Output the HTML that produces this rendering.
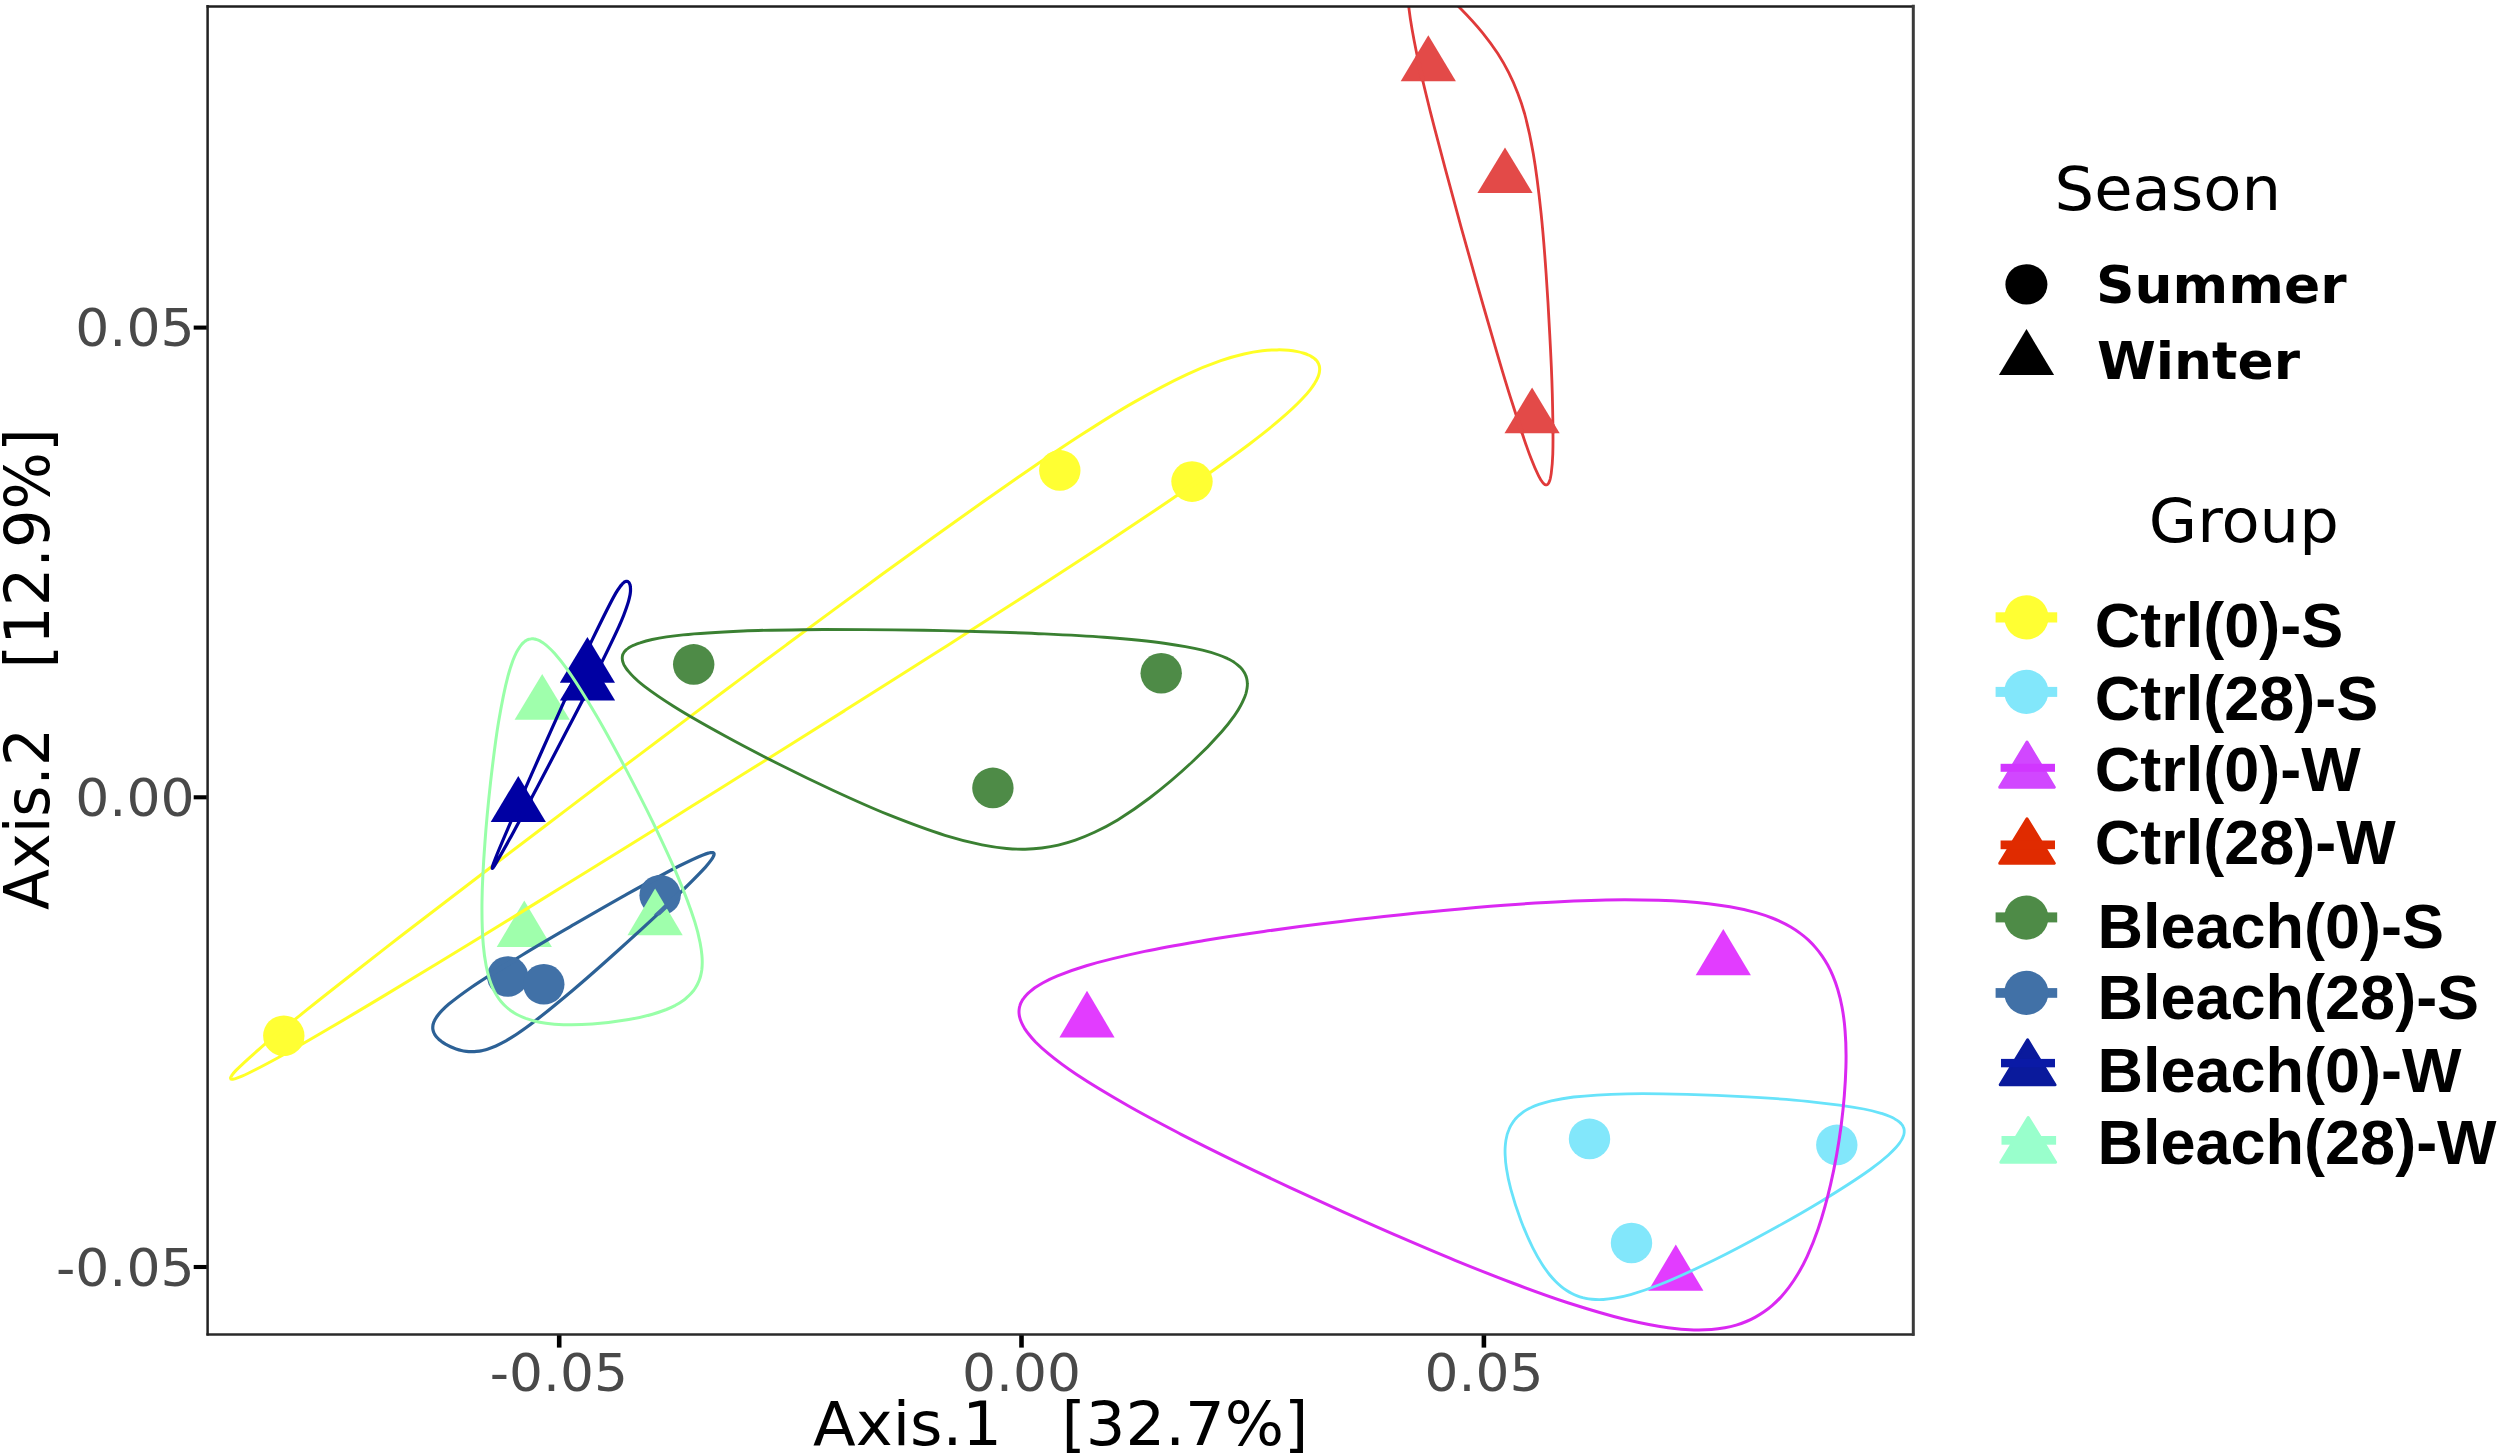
<!DOCTYPE html>
<html lang="en"><head><meta charset="utf-8"><title>PCoA ordination</title>
<style>html,body{margin:0;padding:0;background:#fff}svg{display:block}.dj{font-family:"DejaVu Sans","Liberation Sans",sans-serif}.djb{font-family:"DejaVu Sans","Liberation Sans",sans-serif;font-weight:bold}.ar{font-family:"Liberation Sans","DejaVu Sans",sans-serif;font-weight:bold}</style></head><body>
<svg width="2500" height="1455" viewBox="0 0 2500 1455">
<rect width="2500" height="1455" fill="#fff"/>
<defs><clipPath id="panel"><rect x="207.7" y="6.3" width="1705.4" height="1328.0"/></clipPath></defs>
<defs>
<path id="h-yellow" d="M1249.2 444.2C1234.9 455.0 1216.9 467.8 1200.5 479.3C1184.0 490.9 1167.4 502.1 1150.7 513.3C1134.0 524.6 1117.1 535.8 1100.2 546.9C1083.3 558.0 1066.4 569.0 1049.5 579.9C1032.6 590.9 1015.8 601.7 998.8 612.6C981.8 623.5 964.6 634.5 947.5 645.4C930.4 656.3 913.3 667.1 896.1 678.0C879.0 688.8 861.7 699.7 844.6 710.6C827.4 721.4 810.2 732.2 793.1 742.9C776.1 753.6 759.2 764.2 742.2 774.8C725.2 785.4 708.3 796.0 691.3 806.6C674.2 817.3 657.0 828.0 639.9 838.7C622.7 849.4 605.5 860.1 588.3 870.7C571.2 881.3 554.2 891.8 537.1 902.4C519.8 913.0 502.5 923.7 485.2 934.3C468.0 944.8 450.8 955.4 433.6 965.8C416.5 976.2 399.4 986.6 382.2 996.9C364.9 1007.3 347.6 1017.7 330.2 1027.8C312.9 1037.9 294.0 1049.1 278.0 1057.7C264.8 1064.9 248.4 1073.3 241.4 1076.4C238.6 1077.6 236.9 1078.2 235.5 1078.6C234.6 1078.9 234.0 1079.0 233.5 1079.1C233.1 1079.2 232.8 1079.2 232.5 1079.3C232.3 1079.3 232.1 1079.3 232.0 1079.3C231.8 1079.3 231.7 1079.3 231.6 1079.3C231.5 1079.2 231.4 1079.2 231.3 1079.2C231.3 1079.2 231.2 1079.2 231.2 1079.2C231.1 1079.1 231.1 1079.1 231.0 1079.1C231.0 1079.1 230.9 1079.0 230.9 1079.0C230.9 1079.0 230.8 1079.0 230.8 1078.9C230.8 1078.9 230.8 1078.9 230.8 1078.9C230.7 1078.8 230.7 1078.8 230.7 1078.8C230.7 1078.8 230.7 1078.7 230.7 1078.7C230.6 1078.7 230.6 1078.6 230.6 1078.6C230.6 1078.6 230.6 1078.5 230.6 1078.5C230.6 1078.4 230.6 1078.4 230.6 1078.3C230.6 1078.3 230.6 1078.2 230.6 1078.1C230.6 1078.1 230.6 1078.0 230.6 1077.9C230.6 1077.8 230.6 1077.7 230.7 1077.5C230.7 1077.4 230.8 1077.2 230.9 1077.1C231.0 1076.8 231.1 1076.6 231.3 1076.3C231.6 1075.8 231.9 1075.3 232.4 1074.6C233.2 1073.5 234.2 1072.3 236.0 1070.4C240.3 1066.0 250.0 1057.1 259.2 1049.1C271.9 1038.0 290.0 1023.5 305.5 1010.9C321.1 998.3 336.8 986.0 352.6 973.7C368.4 961.2 384.4 948.9 400.3 936.5C416.3 924.2 432.3 911.9 448.3 899.7C464.2 887.5 480.1 875.3 496.0 863.2C512.0 851.0 528.0 838.8 544.1 826.7C560.2 814.5 576.4 802.2 592.5 790.0C608.6 777.8 624.7 765.7 640.9 753.6C657.0 741.4 673.3 729.2 689.4 717.1C705.6 705.0 721.7 692.9 737.9 680.9C754.1 668.8 770.4 656.6 786.7 644.6C802.9 632.6 819.1 620.6 835.4 608.6C851.6 596.7 867.9 584.7 884.2 572.8C900.6 560.9 917.0 549.0 933.4 537.2C949.9 525.4 966.3 513.6 982.8 502.0C999.3 490.4 1015.8 478.9 1032.4 467.5C1049.0 456.2 1065.6 444.9 1082.5 434.1C1099.4 423.2 1116.4 412.3 1133.8 402.4C1151.2 392.4 1171.2 381.7 1187.1 374.3C1199.4 368.5 1210.5 364.2 1220.8 360.6C1229.1 357.8 1236.7 355.7 1244.1 354.0C1250.5 352.5 1256.5 351.5 1262.3 350.8C1267.4 350.2 1272.4 349.9 1277.0 349.9C1281.2 349.8 1285.2 350.0 1288.8 350.3C1291.9 350.6 1294.9 351.1 1297.6 351.6C1299.9 352.0 1301.9 352.6 1303.8 353.2C1305.4 353.7 1306.8 354.2 1308.1 354.8C1309.2 355.2 1310.2 355.7 1311.1 356.3C1311.9 356.7 1312.6 357.2 1313.2 357.6C1313.8 358.1 1314.4 358.5 1314.9 359.0C1315.4 359.4 1315.8 359.8 1316.2 360.2C1316.5 360.6 1316.8 361.0 1317.2 361.4C1317.4 361.8 1317.7 362.2 1318.0 362.7C1318.2 363.1 1318.4 363.5 1318.6 363.9C1318.8 364.3 1318.9 364.7 1319.0 365.1C1319.2 365.5 1319.3 366.0 1319.4 366.4C1319.5 366.9 1319.5 367.3 1319.6 367.8C1319.6 368.3 1319.7 368.8 1319.7 369.3C1319.6 369.9 1319.6 370.5 1319.5 371.1C1319.5 371.7 1319.3 372.4 1319.2 373.1C1319.0 373.9 1318.8 374.7 1318.5 375.6C1318.1 376.6 1317.7 377.7 1317.1 378.8C1316.5 380.2 1315.7 381.6 1314.8 383.1C1313.6 385.0 1312.3 387.0 1310.5 389.3C1308.2 392.3 1305.5 395.5 1301.8 399.3C1296.3 405.1 1288.0 412.8 1279.9 419.7C1270.7 427.7 1260.7 435.4 1249.2 444.2Z"/>
<clipPath id="m-yellow">
<ellipse cx="1059.8" cy="470.4" rx="20.7" ry="20.3"/>
<ellipse cx="1192.0" cy="481.6" rx="20.7" ry="20.3"/>
<ellipse cx="283.8" cy="1035.7" rx="20.7" ry="20.3"/>
</clipPath>
<path id="h-cyan" d="M1903.6 1127.8C1903.7 1128.1 1903.9 1128.6 1904.0 1128.9C1904.1 1129.3 1904.1 1129.7 1904.2 1130.0C1904.2 1130.4 1904.2 1130.8 1904.2 1131.2C1904.2 1131.6 1904.2 1132.0 1904.2 1132.4C1904.1 1132.9 1904.1 1133.3 1904.0 1133.8C1903.9 1134.3 1903.8 1134.9 1903.6 1135.4C1903.4 1136.1 1903.1 1136.7 1902.8 1137.4C1902.5 1138.2 1902.1 1139.0 1901.6 1139.9C1901.0 1140.9 1900.3 1142.0 1899.5 1143.1C1898.4 1144.6 1897.2 1146.1 1895.7 1147.8C1893.7 1150.0 1891.3 1152.4 1888.2 1155.2C1883.6 1159.3 1877.9 1164.0 1870.3 1169.5C1857.9 1178.4 1836.9 1191.8 1819.7 1202.2C1802.6 1212.6 1785.1 1222.4 1767.5 1232.0C1749.9 1241.7 1732.2 1251.2 1714.2 1260.0C1696.1 1268.8 1674.8 1278.7 1659.3 1284.8C1648.3 1289.2 1638.9 1292.2 1630.6 1294.6C1624.5 1296.3 1619.2 1297.4 1614.3 1298.2C1610.3 1298.9 1606.7 1299.3 1603.3 1299.5C1600.4 1299.7 1597.8 1299.7 1595.3 1299.5C1592.9 1299.4 1590.8 1299.2 1588.6 1298.9C1586.6 1298.6 1584.7 1298.2 1582.7 1297.7C1580.9 1297.2 1579.0 1296.6 1577.2 1295.9C1575.4 1295.2 1573.6 1294.4 1571.9 1293.5C1570.1 1292.6 1568.4 1291.6 1566.7 1290.5C1564.9 1289.3 1563.1 1288.1 1561.3 1286.6C1559.4 1285.1 1557.6 1283.4 1555.7 1281.5C1553.6 1279.4 1551.5 1277.1 1549.4 1274.5C1547.0 1271.4 1544.5 1268.1 1542.1 1264.2C1539.0 1259.5 1535.9 1254.1 1532.8 1247.9C1528.9 1240.0 1524.5 1229.9 1520.9 1220.4C1517.1 1210.4 1513.3 1198.5 1510.8 1189.1C1508.8 1181.6 1507.4 1174.8 1506.5 1168.7C1505.7 1164.0 1505.3 1159.7 1505.2 1155.8C1505.0 1152.6 1505.0 1149.7 1505.2 1146.9C1505.3 1144.5 1505.6 1142.3 1505.9 1140.2C1506.3 1138.3 1506.7 1136.5 1507.1 1134.7C1507.6 1133.1 1508.1 1131.6 1508.7 1130.2C1509.2 1128.8 1509.9 1127.4 1510.5 1126.2C1511.2 1124.9 1511.9 1123.7 1512.7 1122.6C1513.4 1121.5 1514.3 1120.4 1515.1 1119.3C1516.0 1118.3 1517.0 1117.2 1518.0 1116.3C1519.1 1115.2 1520.3 1114.2 1521.5 1113.3C1522.8 1112.3 1524.2 1111.3 1525.7 1110.4C1527.4 1109.4 1529.2 1108.4 1531.2 1107.5C1533.5 1106.4 1536.0 1105.4 1538.9 1104.4C1542.5 1103.1 1546.5 1101.9 1551.3 1100.8C1557.6 1099.4 1564.5 1098.1 1573.6 1097.0C1587.5 1095.4 1608.8 1094.3 1627.2 1093.8C1646.6 1093.3 1667.2 1093.8 1687.2 1094.3C1707.3 1094.8 1727.4 1095.7 1747.4 1096.9C1767.5 1098.0 1787.7 1099.2 1807.4 1101.3C1826.5 1103.3 1850.2 1106.4 1863.7 1109.0C1871.4 1110.4 1876.8 1112.0 1881.6 1113.4C1885.0 1114.5 1887.6 1115.5 1890.0 1116.5C1891.9 1117.3 1893.4 1118.1 1894.8 1118.9C1896.0 1119.5 1896.9 1120.2 1897.8 1120.8C1898.5 1121.3 1899.2 1121.9 1899.8 1122.4C1900.3 1122.9 1900.8 1123.3 1901.2 1123.8C1901.5 1124.2 1901.9 1124.6 1902.2 1125.0C1902.4 1125.4 1902.7 1125.8 1902.9 1126.2C1903.1 1126.6 1903.3 1127.0 1903.4 1127.3C1903.5 1127.5 1903.6 1127.6 1903.6 1127.8Z"/>
<clipPath id="m-cyan">
<ellipse cx="1589.5" cy="1138.9" rx="20.7" ry="20.3"/>
<ellipse cx="1836.8" cy="1144.9" rx="20.7" ry="20.3"/>
<ellipse cx="1631.5" cy="1243.0" rx="20.7" ry="20.3"/>
</clipPath>
<path id="h-magenta" d="M1779.4 921.1C1782.7 922.6 1787.2 924.9 1790.8 927.0C1794.2 929.0 1797.3 931.1 1800.3 933.4C1803.2 935.5 1805.9 937.8 1808.5 940.2C1811.0 942.6 1813.4 945.0 1815.6 947.6C1817.9 950.2 1820.0 953.0 1822.0 955.9C1824.0 958.8 1825.9 961.9 1827.7 965.1C1829.6 968.6 1831.4 972.2 1833.0 976.1C1834.8 980.3 1836.4 984.8 1837.8 989.7C1839.4 995.1 1840.9 1000.7 1842.0 1007.0C1843.4 1014.4 1844.5 1022.3 1845.1 1031.1C1846.0 1042.0 1846.3 1053.8 1845.9 1067.3C1845.4 1084.3 1843.7 1105.8 1841.2 1125.2C1838.6 1144.9 1834.8 1166.2 1830.6 1184.4C1826.9 1200.4 1822.5 1216.1 1818.1 1229.0C1814.6 1239.3 1810.9 1248.2 1807.2 1256.3C1804.1 1263.0 1801.0 1268.8 1797.7 1274.3C1794.9 1279.1 1791.9 1283.4 1788.9 1287.4C1786.2 1291.0 1783.4 1294.3 1780.6 1297.4C1777.9 1300.2 1775.1 1302.9 1772.3 1305.3C1769.6 1307.7 1766.8 1309.8 1764.0 1311.8C1761.2 1313.8 1758.3 1315.5 1755.4 1317.1C1752.4 1318.8 1749.4 1320.2 1746.3 1321.5C1743.0 1322.9 1739.7 1324.1 1736.2 1325.1C1732.5 1326.2 1728.8 1327.1 1724.9 1327.8C1720.6 1328.6 1716.3 1329.2 1711.5 1329.5C1706.1 1329.9 1700.3 1330.1 1693.9 1329.9C1686.1 1329.7 1677.8 1329.1 1668.2 1327.7C1655.7 1326.0 1640.8 1323.1 1625.6 1319.5C1607.7 1315.1 1586.9 1308.8 1567.8 1302.7C1548.8 1296.5 1530.0 1289.6 1511.2 1282.5C1492.4 1275.5 1473.7 1267.9 1455.0 1260.3C1436.3 1252.7 1417.7 1244.7 1399.2 1236.7C1380.8 1228.8 1362.5 1220.6 1344.2 1212.4C1325.9 1204.1 1307.7 1195.8 1289.6 1187.3C1271.4 1178.8 1253.2 1170.1 1235.2 1161.3C1217.1 1152.5 1199.0 1143.5 1181.1 1134.3C1163.3 1125.0 1145.5 1115.8 1128.1 1105.8C1110.7 1095.9 1091.0 1084.2 1076.6 1074.6C1065.6 1067.2 1055.8 1059.9 1048.4 1053.7C1043.1 1049.4 1039.1 1045.6 1035.5 1042.0C1032.8 1039.1 1030.5 1036.5 1028.6 1034.0C1027.0 1032.0 1025.7 1030.1 1024.5 1028.3C1023.6 1026.8 1022.7 1025.3 1022.1 1023.8C1021.5 1022.6 1021.0 1021.4 1020.6 1020.3C1020.2 1019.2 1019.9 1018.2 1019.7 1017.2C1019.4 1016.3 1019.3 1015.4 1019.2 1014.6C1019.1 1013.8 1019.0 1013.0 1019.0 1012.2C1019.0 1011.4 1019.0 1010.7 1019.1 1009.9C1019.1 1009.1 1019.3 1008.4 1019.4 1007.6C1019.6 1006.8 1019.8 1006.1 1020.0 1005.4C1020.2 1004.6 1020.5 1003.9 1020.8 1003.1C1021.2 1002.4 1021.6 1001.6 1022.0 1000.8C1022.5 999.9 1023.1 999.0 1023.8 998.2C1024.5 997.2 1025.3 996.2 1026.2 995.2C1027.2 994.1 1028.4 993.0 1029.7 991.9C1031.2 990.6 1032.9 989.2 1034.8 987.8C1037.2 986.2 1039.9 984.5 1043.1 982.7C1047.2 980.5 1051.8 978.2 1057.5 975.9C1065.4 972.6 1075.0 969.1 1086.4 965.7C1102.4 961.0 1125.1 955.6 1144.7 951.4C1164.3 947.2 1184.2 943.9 1204.1 940.5C1223.9 937.2 1243.9 934.3 1263.8 931.5C1283.8 928.6 1303.8 926.0 1323.8 923.6C1343.9 921.1 1363.9 918.7 1383.9 916.6C1403.9 914.4 1423.7 912.3 1443.7 910.5C1463.7 908.6 1483.9 906.8 1504.0 905.3C1524.1 903.8 1544.3 902.4 1564.5 901.5C1584.6 900.6 1604.7 899.8 1624.8 899.8C1644.8 899.8 1666.3 900.1 1684.8 901.4C1701.0 902.6 1717.0 904.5 1729.9 906.7C1739.9 908.4 1748.4 910.4 1756.2 912.6C1762.6 914.4 1769.2 916.8 1773.4 918.5C1776.0 919.4 1777.1 920.0 1779.4 921.1Z"/>
<clipPath id="m-magenta">
<path d="M1087.0 990.7 L1114.6 1037.4 L1059.4 1037.4Z"/>
<path d="M1723.3 929.1 L1750.9 975.3 L1695.7 975.3Z"/>
<path d="M1675.8 1244.6 L1703.4 1290.7 L1648.2 1290.7Z"/>
</clipPath>
<path id="h-red" d="M1524.7 114.0C1527.7 125.1 1530.8 139.1 1533.3 153.7C1536.4 171.6 1539.0 193.5 1541.1 213.5C1543.2 233.4 1544.7 253.4 1546.1 273.5C1547.5 293.5 1548.7 313.6 1549.7 333.6C1550.8 353.7 1551.8 373.8 1552.3 393.9C1552.8 413.9 1553.3 439.6 1552.8 454.0C1552.5 462.1 1551.9 468.4 1551.3 472.9C1551.0 475.4 1550.6 477.1 1550.3 478.6C1550.0 479.6 1549.8 480.4 1549.5 481.1C1549.3 481.6 1549.1 482.1 1549.0 482.4C1548.8 482.7 1548.7 483.0 1548.5 483.2C1548.4 483.4 1548.3 483.6 1548.2 483.7C1548.1 483.9 1547.9 484.0 1547.8 484.1C1547.7 484.2 1547.6 484.3 1547.6 484.4C1547.5 484.4 1547.4 484.5 1547.3 484.5C1547.2 484.6 1547.2 484.6 1547.1 484.7C1547.0 484.7 1546.9 484.7 1546.9 484.8C1546.8 484.8 1546.7 484.8 1546.7 484.8C1546.6 484.8 1546.5 484.9 1546.4 484.9C1546.4 484.9 1546.3 484.9 1546.2 484.9C1546.1 484.9 1546.1 484.9 1546.0 484.9C1545.9 484.9 1545.8 484.9 1545.7 484.8C1545.6 484.8 1545.5 484.8 1545.4 484.8C1545.3 484.7 1545.2 484.7 1545.1 484.6C1545.0 484.6 1544.8 484.5 1544.7 484.4C1544.6 484.3 1544.4 484.2 1544.2 484.1C1544.0 483.9 1543.8 483.7 1543.6 483.5C1543.3 483.2 1543.0 482.9 1542.7 482.5C1542.3 482.0 1541.8 481.4 1541.3 480.6C1540.5 479.3 1539.6 477.9 1538.5 475.7C1536.5 471.7 1533.8 465.7 1530.9 458.1C1525.7 444.6 1517.8 420.3 1511.7 401.2C1505.5 382.1 1499.9 362.8 1494.3 343.6C1488.6 324.3 1483.1 305.1 1477.6 285.8C1472.1 266.5 1466.7 247.2 1461.3 227.9C1456.0 208.5 1450.7 189.1 1445.5 169.7C1440.3 150.3 1435.2 131.0 1430.3 111.6C1425.5 92.1 1420.2 71.1 1416.6 53.0C1413.4 37.5 1410.3 19.7 1409.1 9.7C1408.5 4.4 1408.4 0.9 1408.4 -2.5C1408.4 -4.8 1408.5 -6.7 1408.7 -8.5C1408.8 -9.8 1409.0 -11.0 1409.2 -12.0C1409.4 -12.9 1409.6 -13.6 1409.9 -14.3C1410.0 -14.9 1410.3 -15.5 1410.5 -16.0C1410.7 -16.5 1410.9 -16.9 1411.1 -17.2C1411.3 -17.6 1411.5 -17.9 1411.8 -18.2C1411.9 -18.4 1412.1 -18.7 1412.3 -18.9C1412.5 -19.1 1412.7 -19.3 1412.9 -19.4C1413.1 -19.6 1413.3 -19.8 1413.6 -19.9C1413.8 -20.1 1414.0 -20.2 1414.2 -20.3C1414.4 -20.5 1414.7 -20.6 1414.9 -20.7C1415.2 -20.8 1415.4 -20.8 1415.6 -20.9C1415.9 -21.0 1416.2 -21.1 1416.5 -21.1C1416.8 -21.2 1417.1 -21.2 1417.4 -21.2C1417.8 -21.2 1418.1 -21.2 1418.5 -21.2C1418.9 -21.2 1419.4 -21.2 1419.8 -21.1C1420.4 -21.0 1420.9 -20.9 1421.5 -20.7C1422.2 -20.6 1423.0 -20.3 1423.8 -20.0C1424.8 -19.6 1425.9 -19.2 1427.1 -18.5C1428.6 -17.7 1430.3 -16.8 1432.3 -15.5C1435.1 -13.7 1438.3 -11.4 1441.9 -8.4C1447.3 -4.0 1454.6 2.5 1461.0 8.9C1468.1 16.1 1476.2 24.9 1482.6 32.8C1488.2 39.7 1493.1 46.5 1497.6 53.3C1501.7 59.7 1505.3 65.9 1508.6 72.4C1512.0 79.1 1515.0 86.0 1517.7 92.9C1520.4 99.8 1522.4 105.8 1524.7 114.0Z"/>
<clipPath id="m-red">
<path d="M1428.3 35.2 L1455.9 81.3 L1400.7 81.3Z"/>
<path d="M1505.0 147.4 L1532.6 193.0 L1477.4 193.0Z"/>
<path d="M1532.1 387.4 L1559.7 433.3 L1504.5 433.3Z"/>
</clipPath>
<path id="h-dkgreen" d="M1228.8 659.2C1229.9 659.8 1232.3 661.1 1233.9 662.1C1235.2 663.0 1236.4 663.9 1237.5 664.8C1238.5 665.6 1239.4 666.3 1240.2 667.1C1240.9 667.9 1241.5 668.6 1242.2 669.4C1242.7 670.1 1243.3 670.8 1243.7 671.5C1244.2 672.3 1244.6 673.0 1245.0 673.7C1245.3 674.4 1245.6 675.1 1245.9 675.9C1246.2 676.6 1246.4 677.4 1246.6 678.1C1246.8 678.9 1247.0 679.7 1247.1 680.6C1247.2 681.4 1247.3 682.3 1247.3 683.2C1247.4 684.1 1247.4 685.1 1247.3 686.1C1247.2 687.2 1247.1 688.4 1246.8 689.6C1246.6 690.9 1246.3 692.2 1245.9 693.6C1245.4 695.2 1244.8 696.9 1244.0 698.7C1243.1 700.8 1242.1 703.1 1240.7 705.5C1239.1 708.6 1237.1 711.8 1234.6 715.4C1231.2 720.2 1227.2 725.5 1221.9 731.5C1214.4 740.1 1203.8 751.2 1192.9 761.3C1180.2 773.2 1163.2 787.7 1149.6 798.0C1138.4 806.6 1127.6 813.8 1117.7 819.9C1109.5 824.8 1101.9 828.8 1094.5 832.3C1087.9 835.4 1081.7 837.9 1075.4 840.1C1069.6 842.1 1064.0 843.7 1058.3 845.1C1052.8 846.4 1047.3 847.3 1041.8 848.0C1036.3 848.7 1030.8 849.1 1025.1 849.2C1019.1 849.3 1013.2 849.1 1006.6 848.5C999.0 847.8 991.0 846.7 982.0 844.9C970.9 842.6 958.5 839.5 944.9 835.3C927.9 830.1 906.9 822.1 888.3 814.7C869.7 807.2 851.5 798.9 833.3 790.5C815.1 782.0 797.0 773.2 779.1 764.2C761.1 755.2 743.2 746.0 725.6 736.3C708.0 726.7 688.2 715.6 673.5 706.3C662.3 699.2 651.7 691.9 644.5 686.4C640.0 682.9 636.7 680.0 633.9 677.2C631.7 675.2 630.1 673.4 628.7 671.7C627.5 670.3 626.6 669.1 625.8 667.9C625.2 667.0 624.7 666.0 624.2 665.2C623.8 664.5 623.5 663.8 623.3 663.1C623.1 662.5 622.9 661.9 622.7 661.4C622.6 660.9 622.5 660.4 622.4 659.9C622.3 659.4 622.3 659.0 622.3 658.6C622.2 658.1 622.2 657.7 622.3 657.4C622.3 657.0 622.3 656.6 622.4 656.3C622.5 655.9 622.5 655.6 622.6 655.3C622.7 654.9 622.8 654.6 623.0 654.2C623.1 653.9 623.3 653.6 623.5 653.2C623.6 652.9 623.9 652.5 624.1 652.2C624.4 651.8 624.7 651.4 625.0 651.1C625.3 650.7 625.7 650.3 626.1 649.9C626.6 649.4 627.1 649.0 627.7 648.6C628.4 648.1 629.2 647.5 630.1 647.0C631.2 646.4 632.4 645.8 633.8 645.2C635.5 644.4 637.6 643.5 640.0 642.8C643.4 641.7 647.2 640.6 652.2 639.5C660.1 637.9 671.1 636.2 683.1 634.9C699.8 633.1 723.0 631.9 743.1 631.0C763.1 630.1 783.3 629.9 803.4 629.7C823.4 629.5 843.3 629.5 863.4 629.6C883.5 629.7 903.7 630.0 923.8 630.3C943.8 630.6 963.7 631.1 983.8 631.7C1003.9 632.3 1024.1 632.9 1044.2 633.9C1064.2 634.8 1084.1 635.7 1104.1 637.3C1124.1 638.9 1146.3 640.8 1164.1 643.3C1178.3 645.3 1192.5 647.8 1202.5 650.2C1209.2 651.8 1214.3 653.4 1218.8 655.0C1222.3 656.2 1226.1 658.0 1227.7 658.7C1228.2 658.9 1228.3 658.9 1228.8 659.2Z"/>
<clipPath id="m-dkgreen">
<ellipse cx="693.7" cy="664.4" rx="20.7" ry="20.3"/>
<ellipse cx="1161.2" cy="673.3" rx="20.7" ry="20.3"/>
<ellipse cx="992.9" cy="787.9" rx="20.7" ry="20.3"/>
</clipPath>
<path id="h-steel" d="M506.7 1040.4C508.3 1039.5 518.7 1033.1 526.6 1027.3C539.1 1018.2 558.1 1002.6 573.4 989.7C588.8 976.8 603.7 963.4 618.6 950.0C633.5 936.6 648.4 923.2 662.8 909.4C677.3 895.6 697.9 875.4 705.5 867.1C708.4 863.8 710.0 861.7 711.3 859.9C712.0 858.9 712.6 858.0 713.0 857.3C713.3 856.8 713.4 856.4 713.6 856.0C713.7 855.7 713.8 855.4 713.9 855.2C714.0 855.0 714.0 854.8 714.0 854.7C714.1 854.5 714.1 854.4 714.1 854.3C714.1 854.2 714.1 854.1 714.1 854.0C714.1 854.0 714.1 853.9 714.1 853.8C714.1 853.8 714.1 853.7 714.0 853.6C714.0 853.6 714.0 853.5 714.0 853.5C714.0 853.4 713.9 853.4 713.9 853.4C713.9 853.3 713.9 853.3 713.9 853.2C713.8 853.2 713.8 853.1 713.8 853.1C713.7 853.1 713.7 853.0 713.7 853.0C713.6 853.0 713.6 852.9 713.5 852.9C713.5 852.9 713.4 852.9 713.4 852.8C713.3 852.8 713.3 852.8 713.2 852.7C713.1 852.7 713.1 852.7 713.0 852.7C712.9 852.6 712.8 852.6 712.7 852.6C712.5 852.6 712.4 852.5 712.2 852.5C712.0 852.5 711.8 852.5 711.6 852.5C711.3 852.6 710.9 852.6 710.5 852.7C709.9 852.7 709.2 852.9 708.3 853.1C706.9 853.5 705.4 854.0 703.0 854.9C697.8 856.9 688.5 861.3 679.1 866.0C664.8 873.2 643.7 884.9 626.2 894.6C608.7 904.4 591.4 914.4 574.1 924.4C556.8 934.5 539.4 944.5 522.3 955.0C505.2 965.5 484.9 978.0 471.5 987.2C462.3 993.6 454.3 999.6 448.9 1004.1C445.7 1006.8 443.6 1008.9 441.6 1010.9C440.1 1012.5 438.9 1013.9 437.9 1015.3C437.1 1016.4 436.4 1017.4 435.8 1018.3C435.3 1019.2 434.8 1020.0 434.5 1020.7C434.1 1021.4 433.9 1022.1 433.6 1022.7C433.4 1023.3 433.3 1023.9 433.1 1024.4C433.0 1024.9 432.9 1025.4 432.9 1025.9C432.8 1026.4 432.8 1026.8 432.8 1027.3C432.7 1027.8 432.8 1028.2 432.8 1028.6C432.8 1029.1 432.9 1029.5 433.0 1029.9C433.1 1030.4 433.2 1030.8 433.3 1031.2C433.4 1031.6 433.6 1032.1 433.8 1032.5C434.0 1033.0 434.2 1033.5 434.5 1033.9C434.7 1034.4 435.1 1035.0 435.4 1035.5C435.8 1036.0 436.3 1036.6 436.8 1037.2C437.3 1037.8 438.0 1038.5 438.7 1039.2C439.6 1040.0 440.5 1040.7 441.5 1041.5C442.7 1042.4 444.1 1043.3 445.5 1044.2C447.1 1045.1 448.9 1046.0 450.6 1046.8C452.4 1047.6 454.3 1048.4 456.1 1049.0C457.9 1049.6 459.6 1050.1 461.4 1050.5C463.1 1050.9 464.7 1051.1 466.4 1051.3C468.0 1051.5 469.7 1051.6 471.3 1051.6C473.0 1051.6 474.7 1051.6 476.4 1051.4C478.2 1051.2 480.0 1051.0 481.9 1050.6C483.9 1050.1 486.0 1049.6 488.1 1048.9C490.6 1048.1 493.1 1047.2 495.9 1046.0C499.2 1044.5 505.3 1041.3 506.4 1040.7C506.6 1040.5 506.5 1040.6 506.7 1040.4Z"/>
<clipPath id="m-steel">
<ellipse cx="507.7" cy="976.5" rx="20.7" ry="20.3"/>
<ellipse cx="543.8" cy="984.3" rx="20.7" ry="20.3"/>
<ellipse cx="660.1" cy="895.2" rx="20.7" ry="20.3"/>
</clipPath>
<path id="h-navy" d="M619.1 626.1C614.0 637.3 601.8 662.3 592.8 680.2C583.8 698.1 574.6 715.8 565.3 733.5C556.1 751.3 546.8 769.1 537.5 786.8C528.1 804.5 517.3 825.2 509.2 839.8C503.4 850.2 496.0 863.3 493.9 866.5C493.5 867.2 493.2 867.5 493.0 867.8C492.9 867.9 492.8 868.0 492.7 868.1C492.6 868.1 492.6 868.2 492.5 868.2C492.5 868.2 492.5 868.2 492.5 868.3C492.5 868.3 492.4 868.3 492.4 868.3C492.4 868.3 492.4 868.3 492.4 868.3C492.4 868.3 492.4 868.3 492.4 868.3C492.4 868.3 492.3 868.3 492.3 868.3C492.3 868.3 492.3 868.3 492.3 868.3C492.3 868.3 492.3 868.3 492.3 868.3C492.3 868.3 492.3 868.3 492.3 868.3C492.3 868.3 492.3 868.3 492.3 868.3C492.3 868.3 492.3 868.3 492.3 868.3C492.3 868.3 492.3 868.3 492.2 868.3C492.2 868.3 492.2 868.3 492.2 868.3C492.2 868.2 492.2 868.2 492.2 868.2C492.2 868.2 492.2 868.2 492.2 868.2C492.2 868.2 492.2 868.2 492.2 868.2C492.2 868.1 492.2 868.1 492.2 868.1C492.2 868.0 492.2 868.0 492.2 867.9C492.2 867.9 492.2 867.8 492.2 867.6C492.3 867.4 492.3 867.2 492.4 866.7C492.8 865.4 493.7 862.9 495.1 859.3C498.9 849.3 510.6 822.3 518.6 803.9C526.5 785.5 534.7 767.3 542.8 749.0C551.0 730.7 559.2 712.3 567.4 694.1C575.7 675.8 584.1 656.8 592.4 639.4C600.2 623.3 610.9 601.5 615.8 593.1C617.7 589.8 619.0 588.1 620.2 586.5C621.0 585.4 621.7 584.7 622.3 584.0C622.7 583.5 623.1 583.2 623.5 582.8C623.8 582.6 624.1 582.4 624.3 582.2C624.5 582.0 624.7 581.9 624.9 581.8C625.1 581.7 625.3 581.6 625.4 581.5C625.6 581.5 625.7 581.4 625.8 581.4C626.0 581.4 626.1 581.3 626.2 581.3C626.3 581.3 626.4 581.3 626.5 581.3C626.6 581.3 626.7 581.3 626.8 581.3C626.9 581.3 627.0 581.3 627.0 581.3C627.1 581.3 627.2 581.3 627.3 581.3C627.4 581.4 627.4 581.4 627.5 581.4C627.6 581.4 627.7 581.5 627.8 581.5C627.8 581.6 627.9 581.6 628.0 581.7C628.1 581.7 628.2 581.8 628.2 581.8C628.3 581.9 628.4 582.0 628.5 582.1C628.6 582.2 628.7 582.3 628.8 582.4C628.9 582.5 629.0 582.6 629.1 582.8C629.2 583.0 629.3 583.1 629.4 583.4C629.5 583.6 629.6 583.8 629.7 584.1C629.8 584.4 630.0 584.8 630.1 585.1C630.2 585.6 630.3 586.1 630.3 586.6C630.4 587.2 630.5 587.8 630.5 588.5C630.5 589.3 630.5 590.2 630.5 591.2C630.4 592.4 630.3 593.6 630.0 595.1C629.7 596.9 629.2 598.9 628.5 601.4C627.4 605.2 625.3 611.0 623.7 615.3C622.2 619.2 621.3 621.2 619.1 626.1Z"/>
<clipPath id="m-navy">
<path d="M587.4 637.0 L615.0 682.7 L559.8 682.7Z"/>
<path d="M587.5 654.8 L615.1 700.5 L559.9 700.5Z"/>
<path d="M518.3 776.1 L545.9 821.9 L490.7 821.9Z"/>
</clipPath>
<path id="h-mint" d="M494.5 991.6C495.4 993.3 496.6 995.3 497.7 997.0C498.7 998.6 499.8 1000.1 501.0 1001.5C502.2 1002.9 503.4 1004.2 504.7 1005.5C506.0 1006.8 507.4 1008.0 508.8 1009.1C510.3 1010.3 511.8 1011.4 513.5 1012.4C515.2 1013.5 517.0 1014.6 519.0 1015.5C521.1 1016.5 523.3 1017.5 525.7 1018.4C528.4 1019.3 531.1 1020.2 534.2 1021.0C537.8 1021.9 541.6 1022.6 545.9 1023.2C551.2 1024.0 556.8 1024.5 563.4 1024.7C571.8 1025.0 582.1 1024.8 592.3 1024.1C603.8 1023.2 617.9 1021.5 628.7 1019.6C637.5 1018.1 645.6 1016.2 652.5 1014.2C657.7 1012.7 662.3 1011.1 666.4 1009.5C669.7 1008.1 672.7 1006.7 675.4 1005.3C677.7 1004.0 679.8 1002.8 681.8 1001.4C683.5 1000.3 685.1 999.1 686.5 997.8C687.9 996.7 689.1 995.5 690.3 994.3C691.4 993.2 692.4 992.0 693.4 990.8C694.3 989.6 695.1 988.4 695.8 987.2C696.6 986.0 697.2 984.8 697.8 983.5C698.5 982.2 699.0 980.9 699.5 979.5C700.0 978.1 700.5 976.6 700.8 975.1C701.2 973.4 701.5 971.7 701.8 969.9C702.0 968.0 702.2 965.9 702.2 963.7C702.3 961.1 702.2 958.3 701.9 955.2C701.6 951.5 701.0 947.4 700.1 942.7C698.9 936.6 697.4 930.1 694.8 921.9C690.9 909.6 684.4 892.3 677.8 876.6C670.5 859.1 661.4 840.0 652.7 821.9C643.9 803.9 634.8 786.1 625.5 768.4C616.1 750.7 606.5 732.7 596.5 715.7C586.8 699.3 574.4 679.4 566.5 668.3C561.8 661.8 558.1 657.4 554.7 653.5C552.3 650.8 550.2 648.8 548.2 647.0C546.6 645.5 545.2 644.4 543.8 643.4C542.7 642.6 541.7 642.0 540.8 641.4C539.9 640.9 539.1 640.5 538.3 640.2C537.7 639.9 537.0 639.7 536.4 639.5C535.9 639.3 535.3 639.2 534.8 639.0C534.3 638.9 533.8 638.9 533.3 638.8C532.9 638.8 532.5 638.8 532.0 638.8C531.6 638.8 531.2 638.8 530.8 638.9C530.4 638.9 530.0 639.0 529.6 639.1C529.2 639.2 528.8 639.3 528.4 639.4C528.0 639.6 527.6 639.8 527.2 639.9C526.8 640.1 526.4 640.4 526.0 640.6C525.5 640.9 525.0 641.3 524.6 641.6C524.1 642.0 523.6 642.4 523.1 642.9C522.5 643.5 521.9 644.2 521.3 644.9C520.6 645.8 519.9 646.7 519.2 647.8C518.3 649.1 517.4 650.6 516.5 652.3C515.4 654.6 514.2 657.1 513.0 660.2C511.4 664.6 509.6 669.5 507.9 676.4C504.9 687.7 501.3 705.9 498.5 722.3C495.4 740.8 492.9 761.9 490.6 781.8C488.4 801.7 486.4 821.7 485.0 841.7C483.5 861.7 482.2 883.3 482.0 901.6C481.8 917.3 482.3 933.2 483.3 945.0C484.0 953.3 485.0 959.9 486.2 966.0C487.1 970.7 488.1 974.8 489.3 978.6C490.3 981.7 491.4 984.7 492.4 987.1C493.1 988.8 493.7 990.0 494.5 991.6Z"/>
<clipPath id="m-mint">
<path d="M542.2 674.0 L569.8 719.7 L514.6 719.7Z"/>
<path d="M524.3 900.5 L551.9 947.1 L496.7 947.1Z"/>
<path d="M655.1 888.6 L682.7 935.2 L627.5 935.2Z"/>
</clipPath>
</defs>
<g id="points">
<g fill="#FFFF33">
<ellipse cx="1059.8" cy="470.4" rx="20.7" ry="20.3"/>
<ellipse cx="1192.0" cy="481.6" rx="20.7" ry="20.3"/>
<ellipse cx="283.8" cy="1035.7" rx="20.7" ry="20.3"/>
</g>
<g fill="#82E7FB">
<ellipse cx="1589.5" cy="1138.9" rx="20.7" ry="20.3"/>
<ellipse cx="1836.8" cy="1144.9" rx="20.7" ry="20.3"/>
<ellipse cx="1631.5" cy="1243.0" rx="20.7" ry="20.3"/>
</g>
<g fill="#E23CFF">
<path d="M1087.0 990.7 L1114.6 1037.4 L1059.4 1037.4Z"/>
<path d="M1723.3 929.1 L1750.9 975.3 L1695.7 975.3Z"/>
<path d="M1675.8 1244.6 L1703.4 1290.7 L1648.2 1290.7Z"/>
</g>
<g fill="#E34A48">
<path d="M1428.3 35.2 L1455.9 81.3 L1400.7 81.3Z"/>
<path d="M1505.0 147.4 L1532.6 193.0 L1477.4 193.0Z"/>
<path d="M1532.1 387.4 L1559.7 433.3 L1504.5 433.3Z"/>
</g>
<g fill="#4E8B47">
<ellipse cx="693.7" cy="664.4" rx="20.7" ry="20.3"/>
<ellipse cx="1161.2" cy="673.3" rx="20.7" ry="20.3"/>
<ellipse cx="992.9" cy="787.9" rx="20.7" ry="20.3"/>
</g>
<g fill="#4171A7">
<ellipse cx="507.7" cy="976.5" rx="20.7" ry="20.3"/>
<ellipse cx="543.8" cy="984.3" rx="20.7" ry="20.3"/>
<ellipse cx="660.1" cy="895.2" rx="20.7" ry="20.3"/>
</g>
<g fill="#0000A3">
<path d="M587.4 637.0 L615.0 682.7 L559.8 682.7Z"/>
<path d="M587.5 654.8 L615.1 700.5 L559.9 700.5Z"/>
<path d="M518.3 776.1 L545.9 821.9 L490.7 821.9Z"/>
</g>
<g fill="#9FFFAC">
<path d="M542.2 674.0 L569.8 719.7 L514.6 719.7Z"/>
<path d="M524.3 900.5 L551.9 947.1 L496.7 947.1Z"/>
<path d="M655.1 888.6 L682.7 935.2 L627.5 935.2Z"/>
</g>
</g>
<g id="hulls" fill="none" stroke-width="3.20" stroke-linejoin="round" clip-path="url(#panel)">
<use href="#h-yellow" stroke="#FFFF26" stroke-width="3.00"/>
<use href="#h-yellow" stroke="#FFFF33" stroke-width="4.50" clip-path="url(#m-yellow)"/>
<use href="#h-cyan" stroke="#68E3FA" stroke-width="2.80"/>
<use href="#h-cyan" stroke="#82E7FB" stroke-width="4.30" clip-path="url(#m-cyan)"/>
<use href="#h-magenta" stroke="#DA28F2" stroke-width="3.00"/>
<use href="#h-magenta" stroke="#E23CFF" stroke-width="4.50" clip-path="url(#m-magenta)"/>
<use href="#h-red" stroke="#E03A3A" stroke-width="2.80"/>
<use href="#h-red" stroke="#E34A48" stroke-width="4.30" clip-path="url(#m-red)"/>
<use href="#h-dkgreen" stroke="#3A8032" stroke-width="2.90"/>
<use href="#h-dkgreen" stroke="#4E8B47" stroke-width="4.40" clip-path="url(#m-dkgreen)"/>
<use href="#h-steel" stroke="#2C6196" stroke-width="3.20"/>
<use href="#h-steel" stroke="#4171A7" stroke-width="4.70" clip-path="url(#m-steel)"/>
<use href="#h-navy" stroke="#00009C" stroke-width="3.20"/>
<use href="#h-navy" stroke="#0000A3" stroke-width="4.70" clip-path="url(#m-navy)"/>
<use href="#h-mint" stroke="#98FFA8" stroke-width="3.00"/>
<use href="#h-mint" stroke="#9FFFAC" stroke-width="4.50" clip-path="url(#m-mint)"/>
</g>
<g id="frame" stroke-linecap="square">
<line x1="207.7" y1="6.5" x2="1913.1" y2="6.5" stroke="#1e1e1e" stroke-width="2.3"/>
<line x1="207.7" y1="1334.4" x2="1913.1" y2="1334.4" stroke="#2a2a2a" stroke-width="2.5"/>
<line x1="207.6" y1="6.3" x2="207.6" y2="1334.3" stroke="#222222" stroke-width="2.5"/>
<line x1="1913.3" y1="6.3" x2="1913.3" y2="1334.3" stroke="#3a3a3a" stroke-width="3.0"/>
</g>
<g stroke="#000">
<line x1="193.7" y1="327.6" x2="206.7" y2="327.6" stroke-width="4.1"/>
<line x1="193.7" y1="797.3" x2="206.7" y2="797.3" stroke-width="4.1"/>
<line x1="193.7" y1="1267.0" x2="206.7" y2="1267.0" stroke-width="4.1"/>
<line x1="559.2" y1="1335.3" x2="559.2" y2="1347.6" stroke-width="4.6"/>
<line x1="1021.5" y1="1335.3" x2="1021.5" y2="1347.6" stroke-width="4.6"/>
<line x1="1483.9" y1="1335.3" x2="1483.9" y2="1347.6" stroke-width="4.6"/>
</g>
<text class="dj" transform="translate(194.6 346.3) scale(1.0450 1)" font-size="51.3" fill="#494949" text-anchor="end" xml:space="preserve">0.05</text>
<text class="dj" transform="translate(194.6 816.0) scale(1.0450 1)" font-size="51.3" fill="#494949" text-anchor="end" xml:space="preserve">0.00</text>
<text class="dj" transform="translate(194.6 1285.7) scale(1.0450 1)" font-size="51.3" fill="#494949" text-anchor="end" xml:space="preserve">-0.05</text>
<text class="dj" transform="translate(558.9 1390.5) scale(1.0470 1)" font-size="51.0" fill="#494949" text-anchor="middle" xml:space="preserve">-0.05</text>
<text class="dj" transform="translate(1021.5 1390.5) scale(1.0470 1)" font-size="51.0" fill="#494949" text-anchor="middle" xml:space="preserve">0.00</text>
<text class="dj" transform="translate(1483.9 1390.5) scale(1.0470 1)" font-size="51.0" fill="#494949" text-anchor="middle" xml:space="preserve">0.05</text>
<text class="dj" transform="translate(1060.7 1445.3) scale(1.0400 1)" font-size="60.0" fill="#000" text-anchor="middle" xml:space="preserve">Axis.1   [32.7%]</text>
<text class="dj" transform="translate(49.0 909.9) scale(1.0400 1) rotate(-90)" font-size="60.0" fill="#000" text-anchor="start" xml:space="preserve">Axis.2<tspan dx="1.5" font-size="60.4" letter-spacing="0.2">   [12.9%]</tspan></text>
<text class="dj" transform="translate(2054.6 210.2) scale(1.0400 1)" font-size="60.0" fill="#000" text-anchor="start" xml:space="preserve">Season</text>
<text class="djb" transform="translate(2096.0 303.1) scale(1.0400 1)" font-size="51.4" fill="#000" text-anchor="start" xml:space="preserve">Summer</text>
<text class="djb" transform="translate(2097.0 378.7) scale(1.0400 1)" font-size="51.3" fill="#000" text-anchor="start" xml:space="preserve">Winter</text>
<text class="dj" transform="translate(2148.8 542.4) scale(1.0400 1)" font-size="60.0" fill="#000" text-anchor="start" xml:space="preserve">Group</text>
<text class="ar" transform="translate(2094.8 647.1) scale(1.0000 1)" font-size="63.0" fill="#000" text-anchor="start" xml:space="preserve">Ctrl(0)-S</text>
<text class="ar" transform="translate(2094.8 719.5) scale(1.0000 1)" font-size="63.0" fill="#000" text-anchor="start" xml:space="preserve">Ctrl(28)-S</text>
<text class="ar" transform="translate(2094.8 790.8) scale(1.0000 1)" font-size="63.0" fill="#000" text-anchor="start" xml:space="preserve">Ctrl(0)-W</text>
<text class="ar" transform="translate(2094.8 864.1) scale(1.0000 1)" font-size="63.0" fill="#000" text-anchor="start" xml:space="preserve">Ctrl(28)-W</text>
<text class="ar" transform="translate(2097.5 947.9) scale(1.0000 1)" font-size="63.0" fill="#000" text-anchor="start" xml:space="preserve">Bleach(0)-S</text>
<text class="ar" transform="translate(2097.5 1019.0) scale(1.0000 1)" font-size="63.0" fill="#000" text-anchor="start" xml:space="preserve">Bleach(28)-S</text>
<text class="ar" transform="translate(2097.5 1091.7) scale(1.0000 1)" font-size="63.0" fill="#000" text-anchor="start" xml:space="preserve">Bleach(0)-W</text>
<text class="ar" transform="translate(2097.5 1164.1) scale(1.0000 1)" font-size="63.0" fill="#000" text-anchor="start" xml:space="preserve">Bleach(28)-W</text>
<g id="legend">
<ellipse cx="2026.4" cy="284.4" rx="21.0" ry="20.2" fill="#000"/>
<path d="M2026.5 329.0 L2054.1 375.0 L1998.9 375.0Z" fill="#000"/>
<rect x="1995.6" y="612.3" width="61.6" height="10.2" fill="#FFFF33"/>
<ellipse cx="2026.4" cy="617.4" rx="22.1" ry="22.1" fill="#FFFF33"/>
<rect x="1995.6" y="686.9" width="61.6" height="10.0" fill="#82E7FB"/>
<ellipse cx="2026.3" cy="691.8" rx="22.1" ry="22.1" fill="#82E7FB"/>
<path d="M2027.0 742.1 L2054.3 787.2 L1999.7 787.2Z" fill="#D147FF" stroke="#D147FF" stroke-width="3" stroke-linejoin="round"/>
<rect x="2000.6" y="763.8" width="54.4" height="8.0" fill="#D136FF"/>
<path d="M2027.0 818.8 L2054.3 863.2 L1999.7 863.2Z" fill="#E02B00" stroke="#E02B00" stroke-width="3" stroke-linejoin="round"/>
<rect x="2000.6" y="840.5" width="54.4" height="8.7" fill="#E02B00"/>
<rect x="1995.6" y="912.4" width="61.6" height="10.0" fill="#4E8B47"/>
<ellipse cx="2026.3" cy="917.6" rx="22.1" ry="22.1" fill="#4E8B47"/>
<rect x="1995.6" y="988.1" width="61.6" height="9.7" fill="#4171A7"/>
<ellipse cx="2026.3" cy="992.8" rx="22.1" ry="22.1" fill="#4171A7"/>
<path d="M2027.6 1039.8 L2055.0 1084.8 L2000.2 1084.8Z" fill="#0A1A9C" stroke="#0A1A9C" stroke-width="3" stroke-linejoin="round"/>
<rect x="2001.0" y="1058.9" width="54.0" height="8.4" fill="#0A1AA6"/>
<path d="M2028.2 1117.5 L2055.6 1162.2 L2000.8 1162.2Z" fill="#99FFCC" stroke="#99FFCC" stroke-width="3" stroke-linejoin="round"/>
<rect x="2001.5" y="1136.0" width="54.6" height="8.7" fill="#99FFCC"/>
</g>
</svg></body></html>
